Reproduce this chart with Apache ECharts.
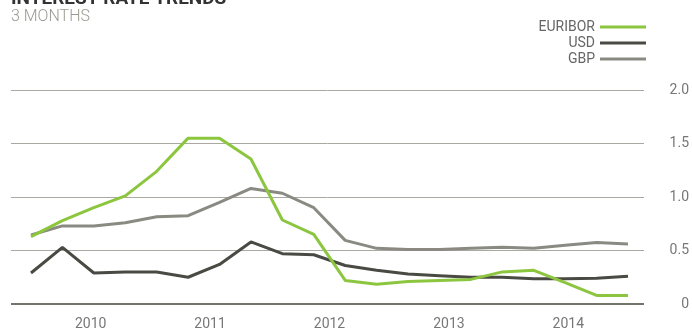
<!DOCTYPE html>
<html>
<head>
<meta charset="utf-8">
<script src="https://cdn.jsdelivr.net/npm/echarts@6/dist/echarts.min.js"></script>
<style>
html,body{margin:0;padding:0;background:#fff;}
#c{width:692px;height:332px;}
</style>
</head>
<body>
<div id="c"></div>
<script>
var quarters = ['2009 Q4','2010 Q1','2010 Q2','2010 Q3','2010 Q4','2011 Q1','2011 Q2','2011 Q3','2011 Q4','2012 Q1','2012 Q2','2012 Q3','2012 Q4','2013 Q1','2013 Q2','2013 Q3','2013 Q4','2014 Q1','2014 Q2','2014 Q3'];
var years = ['2010','2011','2012','2013','2014'];
var euribor = [0.63,0.78,0.90,1.01,1.24,1.55,1.55,1.355,0.785,0.65,0.22,0.185,0.21,0.22,0.23,0.30,0.315,0.20,0.08,0.08];
var usd = [0.29,0.53,0.29,0.30,0.30,0.25,0.37,0.58,0.47,0.46,0.36,0.315,0.28,0.265,0.25,0.25,0.235,0.235,0.24,0.26];
var gbp = [0.645,0.73,0.73,0.76,0.815,0.825,0.95,1.08,1.035,0.90,0.595,0.52,0.51,0.51,0.52,0.53,0.52,0.55,0.575,0.56];
var yTicks = ['0','0.5','1.0','1.5','2.0'];

var chart = echarts.init(document.getElementById('c'), null, {renderer:'canvas'});
var font = 'Roboto, "Liberation Sans", sans-serif';
chart.setOption({
  animation:false,
  backgroundColor:'#fff',
  title:[
    {text:'INTEREST RATE TRENDS', left:11, top:-10, padding:0, textStyle:{fontFamily:font, fontWeight:'bold', fontSize:19, color:'#333'}},
    {text:'3 MONTHS', left:11, top:9, padding:0, textStyle:{fontFamily:font, fontWeight:300, fontSize:16, color:'#9a9a92'}}
  ],
  legend:{
    orient:'vertical', right:46, top:20, align:'right', padding:0,
    icon:'rect', itemWidth:46, itemHeight:3, itemGap:2,
    textStyle:{fontFamily:font, fontSize:14, color:'#666', lineHeight:14, padding:[0,0,0,0]},
    data:['EURIBOR','USD','GBP']
  },
  grid:[
    {left:11, right:46, top:90, bottom:28},
    {left:31, right:64, top:90, bottom:28}
  ],
  xAxis:[
    {gridIndex:0, type:'value', min:0, max:1, show:false},
    {gridIndex:1, type:'category', data:quarters, boundaryGap:false, show:false},
    {gridIndex:1, type:'category', data:years, boundaryGap:true, position:'bottom',
      axisLine:{show:false}, axisTick:{show:false}, splitLine:{show:false},
      axisLabel:{fontFamily:font, fontSize:14, color:'#777', margin:13}}
  ],
  yAxis:[
    {gridIndex:0, type:'value', min:0, max:2, interval:0.5, position:'right',
      axisLine:{show:false}, axisTick:{show:false},
      splitLine:{show:true, lineStyle:{color:'#a9a9a1', width:1}},
      axisLabel:{fontFamily:font, fontSize:14, color:'#777', align:'right', margin:45,
        formatter:function(v){return yTicks[Math.round(v/0.5)];}}},
    {gridIndex:1, type:'value', min:0, max:2, show:false}
  ],
  series:[
    {type:'line', name:'zero', xAxisIndex:0, yAxisIndex:0, data:[[0,0],[1,0]], symbol:'none', silent:true,
      lineStyle:{color:'#74746c', width:2}, z:1},
    {type:'line', name:'GBP', xAxisIndex:1, yAxisIndex:1, data:gbp, symbol:'none', color:'#8a8a83',
      lineStyle:{color:'#8a8a83', width:3}, z:3},
    {type:'line', name:'USD', xAxisIndex:1, yAxisIndex:1, data:usd, symbol:'none', color:'#4a4a44',
      lineStyle:{color:'#4a4a44', width:3}, z:4},
    {type:'line', name:'EURIBOR', xAxisIndex:1, yAxisIndex:1, data:euribor, symbol:'none', color:'#8cc63f',
      lineStyle:{color:'#8cc63f', width:3}, z:5}
  ]
});
</script>
</body>
</html>
